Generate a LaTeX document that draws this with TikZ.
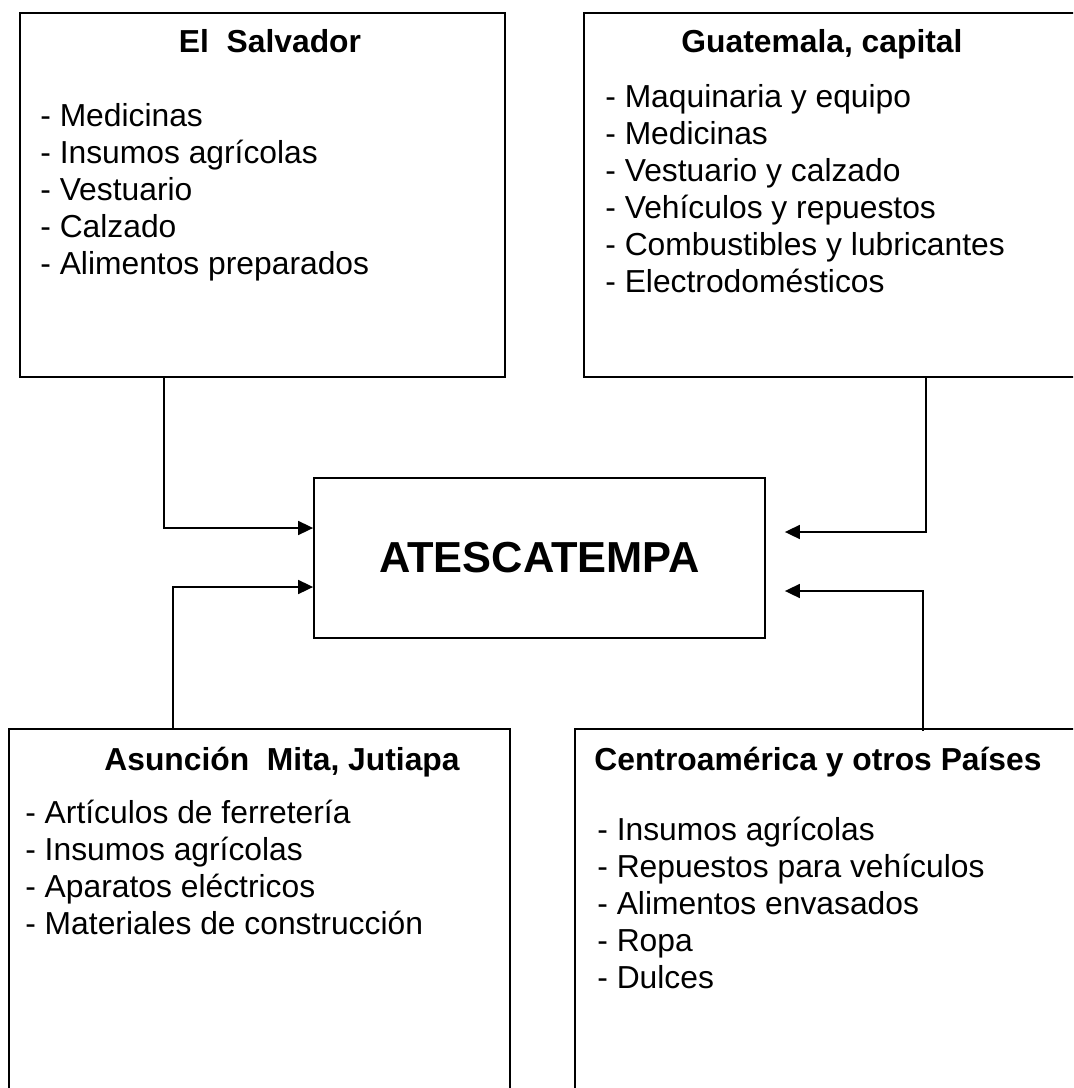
\documentclass[tikz,border=0pt]{standalone}
\usepackage{fontspec}
\setmainfont{Liberation Sans}
\usetikzlibrary{calc, arrows.meta}

\tikzset{
  region/.style={draw, line width=1.1pt, inner sep=0pt, anchor=north west},
  place/.style={font=\bfseries\fontsize{18.1}{21}\selectfont, inner sep=0pt, anchor=base},
  goods/.style={font=\fontsize{18.1}{21}\selectfont, align=left, inner sep=0pt, anchor=base west},
  feed/.style={-{Triangle[length=8.5pt,width=8pt]}, line width=0.8pt},
}

\begin{document}
\begin{tikzpicture}[x=0.02cm, y=-0.02cm]
    \clip (0,0) rectangle (1073,1088);
    % boxes
    \node[region, minimum width=9.7cm, minimum height=7.28cm] (elsal) at (19,12) {};
    \node[region, minimum width=10.34cm, minimum height=7.28cm] (guate) at (583,12) {};
    \node[region, minimum width=9.02cm, minimum height=3.2cm,
          font=\bfseries\fontsize{24.7}{28}\selectfont, anchor=center] (atesc) at (539.5,558) {ATESCATEMPA};
    \node[region, minimum width=10.02cm, minimum height=7.44cm] (asun) at (8,728) {};
    \node[region, minimum width=10.52cm, minimum height=7.44cm] (centro) at (574,728) {};
    % titles
    \node[place] (elsaltitle) at (270,53) {El\ \ Salvador};
    \node[place] (guatetitle) at (822,53) {Guatemala, capital};
    \node[place] (asuntitle) at (282,770) {Asunción\ \ Mita, Jutiapa};
    \node[place] (centrotitle) at (818,770) {Centroamérica y otros Países};
    % lists (anchored on the baseline of their last line)
    \node[goods] (elsallist) at (40,274) {- Medicinas\\- Insumos agrícolas\\- Vestuario\\- Calzado\\- Alimentos preparados};
    \node[goods] (guatelist) at (605,292) {- Maquinaria y equipo\\- Medicinas\\- Vestuario y calzado\\- Vehículos y repuestos\\- Combustibles y lubricantes\\- Electrodomésticos};
    \node[goods] (asunlist) at (25,934) {- Artículos de ferretería\\- Insumos agrícolas\\- Aparatos eléctricos\\- Materiales de construcción};
    \node[goods] (centrolist) at (597,988) {- Insumos agrícolas\\- Repuestos para vehículos\\- Alimentos envasados\\- Ropa\\- Dulces};
    % connectors
    \draw[feed] ($(elsal.south west)+(145,0)$) |- ($(atesc.west)+(0,-30)$);
    \draw[feed] ($(asun.north west)+(165,0)$) |- ($(atesc.west)+(0,29)$);
    \draw[feed, shorten >=0.38cm] ($(guate.south west)+(343,0)$) |- ($(atesc.east)+(0,-26)$);
    \draw[feed, shorten >=0.38cm] ($(centro.north west)+(349,3)$) |- ($(atesc.east)+(0,33)$);
\end{tikzpicture}
\end{document}
